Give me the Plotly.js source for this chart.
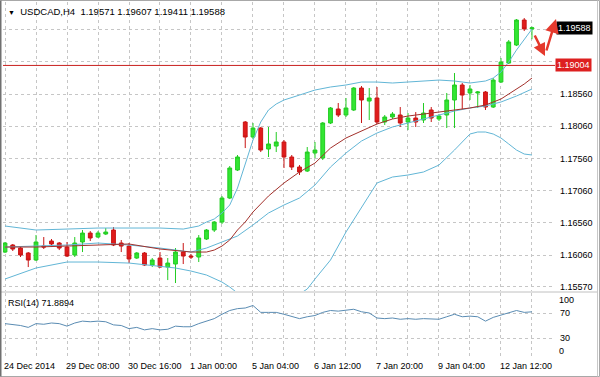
<!DOCTYPE html>
<html>
<head>
<meta charset="utf-8">
<script src="https://cdn.plot.ly/plotly-3.0.1.min.js"></script>
<style>html,body{margin:0;padding:0;background:#fff;}#chart{width:600px;height:377px;}</style>
</head>
<body>
<div id="chart"></div>
<script>
// ---- Candles (USDCAD, H4) ----
const opens  = [1.16106,1.16215,1.16168,1.16091,1.15982,1.16199,1.16277,1.16246,1.16184,1.16060,
                1.16262,1.16401,1.16339,1.16386,1.16448,1.16246,1.16199,1.16013,1.16091,1.15904,
                1.16013,1.15873,1.15920,1.16106,1.16044,1.16029,1.16308,1.16448,1.16572,1.16945,
                1.17380,1.18125,1.17892,1.18032,1.17706,1.17752,1.17815,1.17582,1.17426,1.17364,
                1.17644,1.17566,1.18110,1.18327,1.18234,1.18312,1.18653,1.18451,1.18498,1.18125,
                1.18203,1.18234,1.18125,1.18187,1.18156,1.18312,1.18172,1.18234,1.18467,1.18700,
                1.18576,1.18576,1.18591,1.18358,1.18746,1.19041,1.19321,1.19709,1.19571];
const highs  = [1.16262,1.16231,1.16184,1.16106,1.16370,1.16339,1.16308,1.16262,1.16262,1.16339,
                1.16448,1.16432,1.16432,1.16479,1.16494,1.16293,1.16246,1.16106,1.16106,1.16013,
                1.16106,1.16013,1.16168,1.16246,1.16075,1.16370,1.16463,1.16588,1.16976,1.17442,
                1.17613,1.18141,1.18110,1.18048,1.18048,1.17970,1.17846,1.17613,1.17457,1.17737,
                1.17815,1.18125,1.18358,1.18420,1.18498,1.18669,1.18684,1.18653,1.18669,1.18234,
                1.18280,1.18358,1.18265,1.18280,1.18420,1.18358,1.18249,1.18576,1.18886,1.18731,
                1.18700,1.18607,1.18607,1.18808,1.19119,1.19399,1.19725,1.19740,1.19607];
const lows   = [1.16091,1.16122,1.16029,1.15873,1.15967,1.16153,1.16184,1.16137,1.16029,1.16029,
                1.16106,1.16277,1.16324,1.16370,1.16199,1.16106,1.15935,1.15998,1.15889,1.15873,
                1.15858,1.15671,1.15625,1.15920,1.15998,1.15951,1.16293,1.16417,1.16541,1.16929,
                1.17364,1.17721,1.17861,1.17659,1.17582,1.17659,1.17411,1.17380,1.17302,1.17349,
                1.17566,1.17535,1.18094,1.18203,1.18203,1.18296,1.18110,1.18156,1.18094,1.18079,
                1.18172,1.18048,1.18001,1.18048,1.18110,1.18125,1.18141,1.18032,1.18032,1.18312,
                1.18467,1.18343,1.18312,1.18343,1.18731,1.19026,1.19305,1.19538,1.19411];
const closes = [1.16246,1.16153,1.16060,1.15982,1.16262,1.16184,1.16231,1.16168,1.16044,1.16246,
                1.16401,1.16324,1.16401,1.16417,1.16215,1.16199,1.15998,1.16091,1.15904,1.15982,
                1.15873,1.15935,1.16106,1.16044,1.16029,1.16324,1.16448,1.16572,1.16945,1.17411,
                1.17582,1.17892,1.18032,1.17690,1.17784,1.17815,1.17582,1.17426,1.17349,1.17659,
                1.17690,1.18110,1.18343,1.18234,1.18343,1.18653,1.18467,1.18498,1.18125,1.18203,
                1.18249,1.18110,1.18187,1.18125,1.18265,1.18187,1.18218,1.18467,1.18700,1.18544,
                1.18638,1.18591,1.18358,1.18777,1.19057,1.19368,1.19709,1.19571,1.19588];

// ---- Bollinger bands ----
const ubIdx = [0,4,8,12,16,20,23,25,26,27,28,29,30,31,32,33,34,35,36,38,40,42,44,46,48,50,52,54,56,58,60,62,63,64,65,66,67,68];
const ubVal = [1.16510,1.16448,1.16463,1.16479,1.16479,1.16479,1.16463,1.16510,1.16572,1.16619,1.16712,1.16836,1.17100,1.17457,1.17846,1.18125,1.18312,1.18405,1.18467,1.18544,1.18622,1.18669,1.18700,1.18746,1.18746,1.18731,1.18746,1.18762,1.18777,1.18762,1.18731,1.18762,1.18808,1.18902,1.19057,1.19243,1.19399,1.19569];
const mbIdx = [0,4,8,12,16,20,22,24,25,26,28,30,32,34,36,38,40,42,44,46,48,50,52,54,56,58,60,62,64,66,68];
const mbVal = [1.16184,1.16199,1.16215,1.16246,1.16215,1.16168,1.16137,1.16106,1.16137,1.16168,1.16262,1.16355,1.16526,1.16712,1.16836,1.16945,1.17147,1.17426,1.17644,1.17830,1.17954,1.18048,1.18110,1.18172,1.18234,1.18296,1.18343,1.18374,1.18436,1.18529,1.18638];
const lbIdx = [0,4,8,12,16,20,22,24,26,28,29,30,32,34,36,38,39,40,42,44,46,48,50,52,54,56,58,59,60,61,62,63,64,65,66,67,68];
const lbVal = [1.15687,1.15858,1.15951,1.15951,1.15935,1.15889,1.15858,1.15811,1.15749,1.15640,1.15563,1.15470,1.15361,1.15314,1.15361,1.15454,1.15532,1.15687,1.15982,1.16417,1.16790,1.17178,1.17271,1.17302,1.17349,1.17457,1.17690,1.17815,1.17939,1.17970,1.17970,1.17939,1.17877,1.17784,1.17690,1.17628,1.17613];

// ---- Moving average (red) ----
const maIdx = [0,4,8,12,16,20,24,26,27,28,29,30,31,32,34,36,38,40,42,44,46,48,50,52,54,56,58,60,62,64,65,66,67,68];
const maVal = [1.16184,1.16184,1.16199,1.16215,1.16231,1.16153,1.16106,1.16106,1.16137,1.16199,1.16293,1.16448,1.16572,1.16728,1.16976,1.17178,1.17349,1.17488,1.17721,1.17877,1.17985,1.18094,1.18172,1.18218,1.18249,1.18280,1.18312,1.18343,1.18389,1.18482,1.18560,1.18638,1.18715,1.18808];

// ---- RSI(14) ----
const rsiVal = [53,52,50,47,53,52,54,53,49,54,57,56,57,56,51,50,45,47,43,45,
                43,44,49,48,48,53,57,61,68,74,77,78,82,71,71,71,68,64,61,64,
                66,71,74,73,74,76,72,70,62,61,62,60,61,60,61,60,60,64,68,64,
                65,64,57,63,67,70,74,71,71.8894];

// ---- Axis labels ----
const dateLabels = ["24 Dec 2014","29 Dec 08:00","30 Dec 16:00","1 Jan 00:00","5 Jan 04:00","6 Jan 12:00","7 Jan 20:00","9 Jan 04:00","12 Jan 12:00"];
const dateIdx = [0,8,16,24,32,40,48,56,64];
const priceTicks = [1.15570,1.16060,1.16560,1.17060,1.17560,1.18060,1.18560,1.19060,1.19560];
const priceTickText = ["1.15570","1.16060","1.16560","1.17060","1.17560","1.18060","1.18560","",""];
const rsiTicks = [30,70];
const levelPrice = 1.19004;
const lastPrice = 1.19588;
const titleText = "USDCAD,H4  1.19571 1.19607 1.19411 1.19588";

const barIdx = opens.map((_, i) => i);
const gridIdx = [];
for (let i = 0; i < opens.length; i += 4) gridIdx.push(i);

const bandColor = '#62b6d6';
const traces = [
  {type:'scatter', mode:'lines', x:ubIdx, y:ubVal, line:{color:bandColor, width:1}, xaxis:'x', yaxis:'y'},
  {type:'scatter', mode:'lines', x:lbIdx, y:lbVal, line:{color:bandColor, width:1}, xaxis:'x', yaxis:'y'},
  {type:'scatter', mode:'lines', x:mbIdx, y:mbVal, line:{color:bandColor, width:1}, xaxis:'x', yaxis:'y'},
  {type:'scatter', mode:'lines', x:maIdx, y:maVal, line:{color:'#a3302b', width:1}, xaxis:'x', yaxis:'y'},
  {type:'candlestick', x:barIdx, open:opens, high:highs, low:lows, close:closes, xaxis:'x', yaxis:'y',
   increasing:{line:{color:'#22cc22', width:1}, fillcolor:'#33e633'},
   decreasing:{line:{color:'#c81414', width:1}, fillcolor:'#e01c1c'},
   whiskerwidth:0},
  {type:'scatter', mode:'lines', x:barIdx, y:rsiVal, line:{color:'#5a8cb3', width:1}, xaxis:'x', yaxis:'y2'}
];

const W = 600, H = 377, ml = 3, mr = 45, mt = 2, mb = 19;
const pw = W - ml - mr, ph = H - mt - mb;
const px = x => (x - ml) / pw;       // pixel -> paper x
const py = y => (H - mb - y) / ph;   // pixel -> paper y

const gridStyle = {showgrid:true, gridcolor:'#c6c6c6', gridwidth:1, griddash:'3px,3px', zeroline:false, showline:false, fixedrange:true};

const annotations = [
  {xref:'paper', yref:'paper', x:px(6), y:py(11), xanchor:'left', yanchor:'middle', showarrow:false,
   text:'<span style="font-size:7px">▼</span>  ' + titleText, font:{size:9.5, color:'#000'}},
  {xref:'paper', yref:'paper', x:px(6), y:py(303), xanchor:'left', yanchor:'middle', showarrow:false,
   text:'RSI(14) ' + rsiVal[rsiVal.length-1].toFixed(4), font:{size:9, color:'#000'}},
  {xref:'paper', yref:'paper', x:px(557), y:py(300), xanchor:'left', yanchor:'middle', showarrow:false, text:'100', font:{size:9}},
  {xref:'paper', yref:'paper', x:px(557), y:py(351), xanchor:'left', yanchor:'middle', showarrow:false, text:'0', font:{size:9}},
  {xref:'paper', yref:'y', x:1, y:lastPrice, xanchor:'left', yanchor:'middle', xshift:1, showarrow:false,
   text:lastPrice.toFixed(5), bgcolor:'#000', font:{size:9, color:'#fff'}, borderpad:1},
  {xref:'paper', yref:'y', x:1, y:levelPrice, xanchor:'left', yanchor:'middle', xshift:0, showarrow:false,
   text:levelPrice.toFixed(5), bgcolor:'#dd2020', font:{size:9, color:'#fff'}, borderpad:1},
  // red hand-drawn arrows
  {xref:'paper', yref:'paper', x:px(556), y:py(19), ax:-10, ay:33, text:'', showarrow:true,
   arrowhead:2, arrowsize:1.1, arrowwidth:2.5, arrowcolor:'#e5392d'},
  {xref:'paper', yref:'paper', x:px(545), y:py(56), ax:-11, ay:-22, text:'', showarrow:true,
   arrowhead:2, arrowsize:1, arrowwidth:2.5, arrowcolor:'#e5392d'}
];
dateLabels.forEach((t, k) => annotations.push({
  xref:'x', yref:'paper', x:dateIdx[k], y:py(366), xanchor:'left', yanchor:'middle', xshift:-3,
  showarrow:false, text:t, font:{size:9, color:'#000'}
}));

const shapes = [
  {type:'line', xref:'paper', yref:'y', x0:0, x1:1, y0:levelPrice, y1:levelPrice, line:{color:'#c8201e', width:1}},
  {type:'line', xref:'paper', yref:'paper', x0:px(0), x1:px(597), y0:py(292), y1:py(292), line:{color:'#c0c0c0', width:1}},
  {type:'rect', xref:'paper', yref:'paper', x0:px(0.5), x1:px(599.5), y0:py(376.5), y1:py(0.5), line:{color:'#a8a8a8', width:1}},
  {type:'line', xref:'paper', yref:'paper', x0:px(0.5), x1:px(0.5), y0:py(376.5), y1:py(0.5), line:{color:'#707070', width:2}},
  {type:'line', xref:'paper', yref:'paper', x0:px(597.5), x1:px(597.5), y0:py(376.5), y1:py(0.5), line:{color:'#c8c8c8', width:1}}
];

const layout = {
  width:W, height:H,
  margin:{l:ml, r:mr, t:mt, b:mb},
  paper_bgcolor:'#ffffff', plot_bgcolor:'#ffffff',
  showlegend:false, hovermode:false,
  font:{family:'"Liberation Sans", Arial, sans-serif', size:9, color:'#000'},
  xaxis:Object.assign({}, gridStyle, {range:[-0.258, 70.97], anchor:'y2', tickmode:'array', tickvals:gridIdx,
    showticklabels:false, ticks:'', rangeslider:{visible:false}}),
  yaxis:Object.assign({}, gridStyle, {domain:[py(291), 1], range:[1.15501, 1.19989], side:'right', anchor:'x',
    tickmode:'array', tickvals:priceTicks, ticktext:priceTickText, ticks:'', ticklabelstandoff:4,
    tickfont:{size:9, color:'#000'}}),
  yaxis2:Object.assign({}, gridStyle, {domain:[0, py(293)], range:[-2, 102], side:'right', anchor:'x',
    tickmode:'array', tickvals:rsiTicks, ticktext:rsiTicks.map(String), ticks:'', ticklabelstandoff:4,
    tickfont:{size:9, color:'#000'}}),
  annotations:annotations,
  shapes:shapes
};

Plotly.newPlot('chart', traces, layout, {staticPlot:true, displayModeBar:false});
</script>
</body>
</html>
